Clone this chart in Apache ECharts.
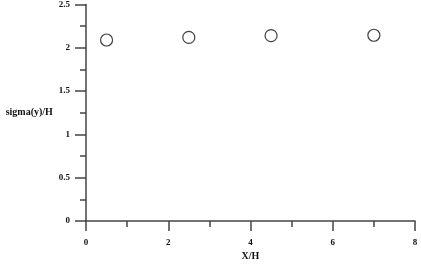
<!DOCTYPE html>
<html><head><meta charset="utf-8">
<script src="https://cdn.jsdelivr.net/npm/echarts@6/dist/echarts.min.js"></script>
<style>html,body{margin:0;padding:0;background:#fff}#c{width:421px;height:270px}</style>
</head><body><div id="c"></div>
<script>
var xValues = [0.5, 2.5, 4.5, 7.0];
var yValues = [2.09, 2.12, 2.14, 2.145];
var xTicks = [0, 2, 4, 6, 8];
var yTicks = [0, 0.5, 1, 1.5, 2, 2.5];

var chart = echarts.init(document.getElementById('c'), null, {renderer: 'canvas'});
var font = {fontFamily: 'Liberation Serif', fontWeight: 'bold', fontSize: 9, color: '#111'};
var axisColor = '#444';
chart.setOption({
  animation: false,
  grid: {left: 86, right: 6, top: 1, bottom: 49},
  xAxis: {
    type: 'value', min: xTicks[0], max: xTicks[xTicks.length - 1], interval: 2,
    name: 'X/H', nameLocation: 'middle', nameGap: 28,
    nameTextStyle: Object.assign({}, font, {fontSize: 10}),
    axisLine: {show: true, onZero: false, lineStyle: {color: axisColor, width: 1.5}},
    axisTick: {show: true, inside: false, length: 10, lineStyle: {color: axisColor, width: 1.5}},
    minorTick: {show: true, splitNumber: 2, length: 6, lineStyle: {color: axisColor, width: 1.5}},
    axisLabel: Object.assign({margin: 17}, font),
    splitLine: {show: false}
  },
  yAxis: {
    type: 'value', min: yTicks[0], max: yTicks[yTicks.length - 1], interval: 0.5,
    name: 'sigma(y)/H', nameLocation: 'middle', nameRotate: 0, nameGap: 33,
    nameTextStyle: Object.assign({}, font, {fontSize: 10, align: 'right'}),
    axisLine: {show: true, onZero: false, lineStyle: {color: axisColor, width: 1.5}},
    axisTick: {show: true, inside: false, length: 11, lineStyle: {color: axisColor, width: 1.5}},
    minorTick: {show: true, splitNumber: 2, length: 6, lineStyle: {color: axisColor, width: 1.5}},
    axisLabel: Object.assign({margin: 16}, font),
    splitLine: {show: false}
  },
  series: [{
    type: 'scatter',
    data: xValues.map(function (x, i) { return [x, yValues[i]]; }),
    symbol: 'circle', symbolSize: 12,
    itemStyle: {color: '#fff', borderColor: '#111', borderWidth: 1.2}
  }]
});
</script>
</body></html>
